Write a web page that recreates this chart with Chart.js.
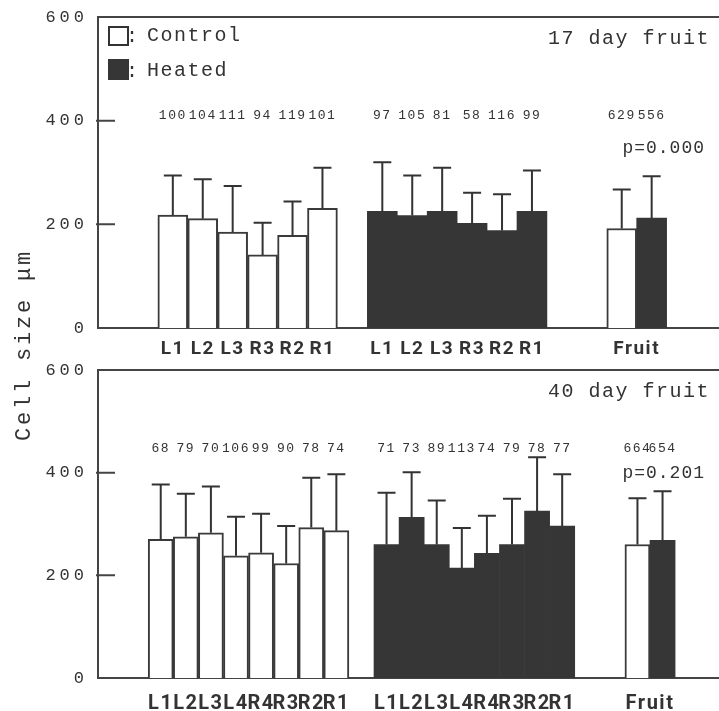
<!DOCTYPE html>
<html>
<head>
<meta charset="utf-8">
<script src="https://cdn.jsdelivr.net/npm/chart.js@4.4.1/dist/chart.umd.min.js"></script>
<style>
  body { margin: 0; background: #fff; }
  #wrap { position: relative; width: 719px; height: 711px; overflow: hidden; }
  canvas { position: absolute; left: 0; }
  #c17 { top: 0; }
  #c40 { top: 355px; }
  #ytitle {
    position: absolute; left: -97px; top: 334px; width: 240px; height: 22px;
    line-height: 22px; text-align: center; transform: rotate(-90deg);
    font: 22px "Liberation Mono", monospace; letter-spacing: 2.8px; color: #333;
  }
</style>
</head>
<body>
<div id="wrap">
  <canvas id="c17" width="719" height="372"></canvas>
  <canvas id="c40" width="719" height="356"></canvas>
  <div id="ytitle">Cell size μm</div>
</div>
<script>
// y axis
const yTicks = [0, 200, 400, 600];

// 17 day fruit
const groups17 = ["L1", "L2", "L3", "R3", "R2", "R1"];
const control17 = [218, 211, 185, 141, 179, 231];
const control17Sd = [76, 76, 89, 62, 65, 78];
const control17N = [100, 104, 111, 94, 119, 101];
const heated17 = [225, 217, 225, 202, 188, 225];
const heated17Sd = [95, 77, 84, 59, 70, 79];
const heated17N = [97, 105, 81, 58, 116, 99];
const fruit17 = [192, 212];      // control, heated
const fruit17Sd = [75, 81];
const fruit17N = [629, 556];
const p17 = "p=0.000";

// 40 day fruit
const groups40 = ["L1", "L2", "L3", "L4", "R4", "R3", "R2", "R1"];
const control40 = [270, 275, 283, 238, 244, 223, 293, 287];
const control40Sd = [107, 84, 90, 76, 76, 73, 97, 110];
const control40N = [68, 79, 70, 106, 99, 90, 78, 74];
const heated40 = [260, 313, 260, 214, 243, 260, 325, 296];
const heated40Sd = [101, 88, 86, 78, 73, 89, 105, 101];
const heated40N = [71, 73, 89, 113, 74, 79, 78, 77];
const fruit40 = [260, 268];
const fruit40Sd = [90, 96];
const fruit40N = [664, 654];
const p40 = "p=0.201";

const INK = "#333";
const MONO = '"Liberation Mono", monospace';

// wrap scale label drawing so tick text gets letter spacing
function spaceLabels(scale, spacing) {
  if (scale._spaced) return;
  const orig = scale.drawLabels.bind(scale);
  scale.drawLabels = (area) => {
    const ctx = scale.ctx;
    ctx.save();
    ctx.letterSpacing = spacing;
    orig(area);
    ctx.restore();
  };
  scale._spaced = true;
}

const panelDecor = {
  id: "panelDecor",
  beforeDraw(chart) {
    spaceLabels(chart.scales.y, "4px");
    spaceLabels(chart.scales.x, "1.5px");
  },
  afterDatasetsDraw(chart, args, o) {
    const ctx = chart.ctx;
    const ys = chart.scales.y;
    ctx.save();
    ctx.strokeStyle = INK;
    ctx.lineWidth = 2;
    chart.data.datasets.forEach((ds, i) => {
      chart.getDatasetMeta(i).data.forEach((bar, j) => {
        const top = ys.getPixelForValue(ds.data[j].y + ds.sd[j]);
        ctx.beginPath();
        ctx.moveTo(bar.x, bar.y);
        ctx.lineTo(bar.x, top);
        ctx.moveTo(bar.x - 9, top);
        ctx.lineTo(bar.x + 9, top);
        ctx.stroke();
      });
    });
    // sample sizes
    ctx.fillStyle = INK;
    ctx.font = "13px " + MONO;
    ctx.letterSpacing = "1.5px";
    ctx.textAlign = "center";
    ctx.textBaseline = "middle";
    chart.data.datasets.forEach((ds, i) => {
      chart.getDatasetMeta(i).data.forEach((bar, j) => {
        ctx.fillText(String(ds.n[j]), bar.x, ys.getPixelForValue(o.nAt));
      });
    });
    ctx.restore();
  },
  afterDraw(chart, args, o) {
    const ctx = chart.ctx;
    const a = chart.chartArea;
    const ys = chart.scales.y;
    ctx.save();
    ctx.strokeStyle = "#444";
    ctx.lineWidth = 2;
    ctx.beginPath();
    ctx.moveTo(a.left, a.top);
    ctx.lineTo(a.right, a.top);
    yTicks.slice(1, -1).forEach(v => {
      const y = ys.getPixelForValue(v);
      ctx.moveTo(a.left - 2, y);
      ctx.lineTo(a.left + 17, y);
    });
    ctx.stroke();

    ctx.fillStyle = INK;
    ctx.textBaseline = "middle";
    ctx.font = "20px " + MONO;
    ctx.letterSpacing = "1.5px";
    ctx.textAlign = "right";
    ctx.fillText(o.title, a.right - 9, a.top + 22);

    ctx.font = "18px " + MONO;
    ctx.letterSpacing = "1px";
    ctx.fillText(o.p, a.right - 14, ys.getPixelForValue(o.pAt));

    if (o.legend) {
      const ds = chart.data.datasets;
      ctx.lineWidth = 2;
      ctx.strokeStyle = INK;
      ctx.fillStyle = "#fff";
      ctx.fillRect(a.left + 11, a.top + 10, 19, 18);
      ctx.strokeRect(a.left + 11, a.top + 10, 19, 18);
      ctx.fillStyle = ds[1].backgroundColor;
      ctx.fillRect(a.left + 10, a.top + 42, 21, 21);
      ctx.fillStyle = INK;
      ctx.font = "20px " + MONO;
      ctx.letterSpacing = "1.5px";
      ctx.textAlign = "left";
      ctx.fillText(":", a.left + 28, a.top + 20);
      ctx.fillText(ds[0].label, a.left + 49, a.top + 19);
      ctx.fillText(":", a.left + 28, a.top + 55);
      ctx.fillText(ds[1].label, a.left + 49, a.top + 54);
    }
    ctx.restore();
  }
};

function makePanel(id, p) {
  const n = p.groups.length;
  const heatedStart = n + 3;
  const fruitStart = 2 * n + 5;
  const controlX = p.groups.map((g, i) => 2 + i + 0.5).concat([fruitStart + 0.5]);
  const heatedX = p.groups.map((g, i) => heatedStart + i + 0.5).concat([fruitStart + 1.5]);
  const controlY = p.control.concat([p.fruit[0]]);
  const heatedY = p.heated.concat([p.fruit[1]]);
  const tickPos = controlX.slice(0, n).concat(heatedX.slice(0, n), [fruitStart + 1]);
  const tickLabels = p.groups.concat(p.groups, ["Fruit"]);

  return new Chart(document.getElementById(id), {
    type: "bar",
    data: {
      datasets: [
        {
          label: "Control",
          data: controlX.map((x, i) => ({ x, y: controlY[i] })),
          sd: p.controlSd.concat([p.fruitSd[0]]),
          n: p.controlN.concat([p.fruitN[0]]),
          backgroundColor: "#fff",
          borderColor: "#3a3a3a",
          borderWidth: 2,
        },
        {
          label: "Heated",
          data: heatedX.map((x, i) => ({ x, y: heatedY[i] })),
          sd: p.heatedSd.concat([p.fruitSd[1]]),
          n: p.heatedN.concat([p.fruitN[1]]),
          backgroundColor: "#363636",
          borderWidth: 0,
        },
      ],
    },
    options: {
      responsive: false,
      animation: false,
      devicePixelRatio: 1,
      grouped: false,
      categoryPercentage: 1,
      barPercentage: 1,
      layout: { padding: { top: p.padTop, left: 0, right: 0, bottom: 0 } },
      plugins: {
        legend: { display: false },
        tooltip: { enabled: false },
        panelDecor: { title: p.title, p: p.p, pAt: p.pAt, nAt: p.nAt, legend: p.legend },
      },
      scales: {
        x: {
          type: "linear",
          min: 0,
          max: 2 * n + 8.75,
          offset: false,
          grid: { display: false, offset: false },
          border: { display: true, color: "#444", width: 2 },
          afterBuildTicks: (s) => { s.ticks = tickPos.map(v => ({ value: v })); },
          afterFit: (s) => { s.height = p.xHeight; },
          ticks: {
            autoSkip: false,
            maxRotation: 0,
            minRotation: 0,
            padding: p.xPad,
            color: INK,
            font: { family: "Roboto", weight: "bold", size: p.xFont },
            callback: (v, i) => tickLabels[i],
          },
        },
        y: {
          min: 0,
          max: 600,
          grid: { display: false },
          border: { display: true, color: "#444", width: 2 },
          afterBuildTicks: (s) => { s.ticks = yTicks.map(v => ({ value: v })); },
          afterFit: (s) => { s.width = 98; },
          ticks: {
            padding: 2,
            color: INK,
            font: { family: "Liberation Mono", size: 17 },
          },
        },
      },
    },
    plugins: [panelDecor],
  });
}

makePanel("c17", {
  groups: groups17, control: control17, controlSd: control17Sd, controlN: control17N,
  heated: heated17, heatedSd: heated17Sd, heatedN: heated17N,
  fruit: fruit17, fruitSd: fruit17Sd, fruitN: fruit17N,
  title: "17 day fruit", p: p17, pAt: 347, nAt: 410, legend: true,
  padTop: 17, xHeight: 44, xPad: 2, xFont: 19,
});

makePanel("c40", {
  groups: groups40, control: control40, controlSd: control40Sd, controlN: control40N,
  heated: heated40, heatedSd: heated40Sd, heatedN: heated40N,
  fruit: fruit40, fruitSd: fruit40Sd, fruitN: fruit40N,
  title: "40 day fruit", p: p40, pAt: 399, nAt: 446, legend: false,
  padTop: 15, xHeight: 33, xPad: 6, xFont: 20,
});
</script>
</body>
</html>
